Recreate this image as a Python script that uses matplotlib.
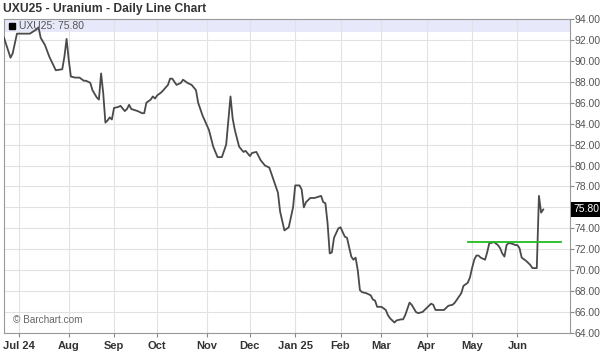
import matplotlib.pyplot as plt
from matplotlib.patches import Rectangle

plt.rcParams['font.family'] = ['Liberation Sans', 'DejaVu Sans']

# trading-day index (0 = first session shown) and settle price
days = [0, 3, 4, 6, 12, 15, 16, 17, 19, 21, 24, 27, 28, 29, 30, 31, 33, 35, 37, 38,
        40, 41, 43, 44, 45, 46, 47, 48, 49, 50, 51, 53, 54, 56, 57, 58, 59, 62, 64, 65,
        66, 68, 69, 70, 71, 73, 76, 77, 78, 80, 82, 83, 85, 87, 89, 90, 92, 95, 97, 99,
        101, 103, 104, 105, 106, 107, 109, 111, 112, 114, 115, 117, 119, 121, 122, 123, 125, 127, 128, 130,
        132, 134, 135, 137, 138, 139, 140, 142, 144, 147, 148, 149, 150, 151, 152, 153, 155, 156, 158, 159,
        160, 161, 162, 163, 164, 165, 166, 168, 170, 171, 172, 173, 175, 177, 178, 179, 181, 182, 184, 185,
        186, 188, 189, 191, 192, 194, 196, 198, 199, 200, 202, 204, 206, 208, 209, 210, 212, 213, 215, 216,
        217, 218, 219, 220, 221, 223, 224, 225, 226, 227, 229, 230, 231, 232, 233, 234, 236, 237, 238, 239,
        240, 242, 243, 244, 245, 246, 247, 248, 249, 250]
prices = [92.2, 90.3, 90.7, 92.6, 92.6, 93.0, 93.2, 92.2, 91.5, 90.4, 89.1, 89.2, 90.4, 92.1, 90.1, 88.5, 88.4, 88.4, 88.1, 88.1,
          87.9, 87.2, 86.5, 86.3, 88.8, 86.9, 84.1, 84.3, 84.6, 84.4, 85.5, 85.6, 85.7, 85.2, 85.4, 85.8, 85.4, 85.2, 85.0, 85.0,
          86.0, 86.3, 86.6, 86.4, 86.7, 87.0, 87.7, 88.3, 88.3, 87.7, 87.9, 88.2, 87.9, 87.7, 87.2, 86.0, 84.8, 83.4, 81.8, 80.8,
          80.8, 82.0, 84.3, 86.6, 84.5, 83.4, 81.8, 81.3, 81.4, 80.9, 81.2, 81.3, 80.5, 80.0, 79.9, 79.8, 78.6, 77.4, 75.6, 73.8,
          74.1, 76.0, 78.1, 78.1, 77.7, 76.0, 76.5, 76.9, 76.9, 77.1, 76.5, 76.4, 74.5, 71.6, 71.7, 73.1, 74.0, 74.1, 73.2, 73.1,
          72.2, 71.3, 71.0, 71.2, 70.0, 68.1, 67.9, 67.8, 67.6, 67.2, 67.1, 66.5, 66.5, 66.2, 65.7, 65.4, 65.0, 65.2, 65.3, 65.3,
          65.7, 66.9, 66.7, 66.0, 65.9, 66.0, 66.4, 66.8, 66.7, 66.2, 66.2, 66.2, 66.6, 66.7, 66.9, 67.2, 67.8, 68.5, 68.8, 69.3,
          70.2, 71.0, 71.4, 71.4, 71.2, 71.0, 71.7, 72.6, 72.6, 72.7, 72.4, 72.1, 71.6, 71.3, 72.4, 72.6, 72.5, 72.4, 72.4, 72.1,
          71.2, 70.9, 70.7, 70.5, 70.2, 70.2, 70.2, 77.1, 75.5, 75.8]

month_pos = [7, 30, 51, 71, 94, 114, 135, 156, 175, 196, 217, 238]
month_labels = ['Jul 24', 'Aug', 'Sep', 'Oct', 'Nov', 'Dec', 'Jan 25', 'Feb', 'Mar', 'Apr', 'May', 'Jun']
y_ticks = list(range(64, 95, 2))

resist_days = [215, 258]
resist_level = 72.7
last_price = 75.80

fig = plt.figure(figsize=(6, 3.51), dpi=100)
ax = fig.add_axes([0.0067, 0.0513, 0.9433, 0.8946])

ax.set_xlim(0, 262.4)
ax.set_ylim(64, 94)

ax.add_patch(Rectangle((0, 92.75), 262.4, 1.25, facecolor='#e8e8fb', edgecolor='none', zorder=0))

ax.set_xticks(month_pos)
ax.set_xticklabels(month_labels, fontweight='bold', fontsize=8, color='#333333')
ax.set_yticks(y_ticks)
ax.set_yticklabels(['%.2f' % v for v in y_ticks], fontsize=7.5, color='#555555')
ax.yaxis.tick_right()
ax.tick_params(axis='y', length=3, color='#888888', pad=0.5)
ax.tick_params(axis='x', length=3, color='#888888', pad=3)
ax.grid(True, color='#e2e2e2', linewidth=0.8)
ax.set_axisbelow(True)
for s in ax.spines.values():
    s.set_color('#999999')
    s.set_linewidth(0.8)

ax.plot(days, prices, color='#4a4a4a', linewidth=1.3, zorder=3)
ax.plot(resist_days, [resist_level, resist_level], color='#22bb22', linewidth=1.3, zorder=4)

ax.text(1.006, last_price, '%.2f' % last_price, transform=ax.get_yaxis_transform(),
        fontsize=7.5, color='white', va='center', ha='left', zorder=10,
        bbox=dict(boxstyle='square,pad=0.2', facecolor='black', edgecolor='none'), clip_on=False)

ax.plot([3.8], [93.35], marker='s', color='black', markersize=5, zorder=5)
ax.text(6.8, 93.35, 'UXU25: %.2f' % last_price, fontsize=7.5, color='#555555', va='center', zorder=5)
ax.text(4, 65.2, '© Barchart.com', fontsize=7.2, color='#666666', va='center')

fig.text(0.005, 0.975, 'UXU25 - Uranium - Daily Line Chart', fontsize=8.7, fontweight='bold',
         color='#333333', va='center', ha='left')

fig.savefig('out.png')
